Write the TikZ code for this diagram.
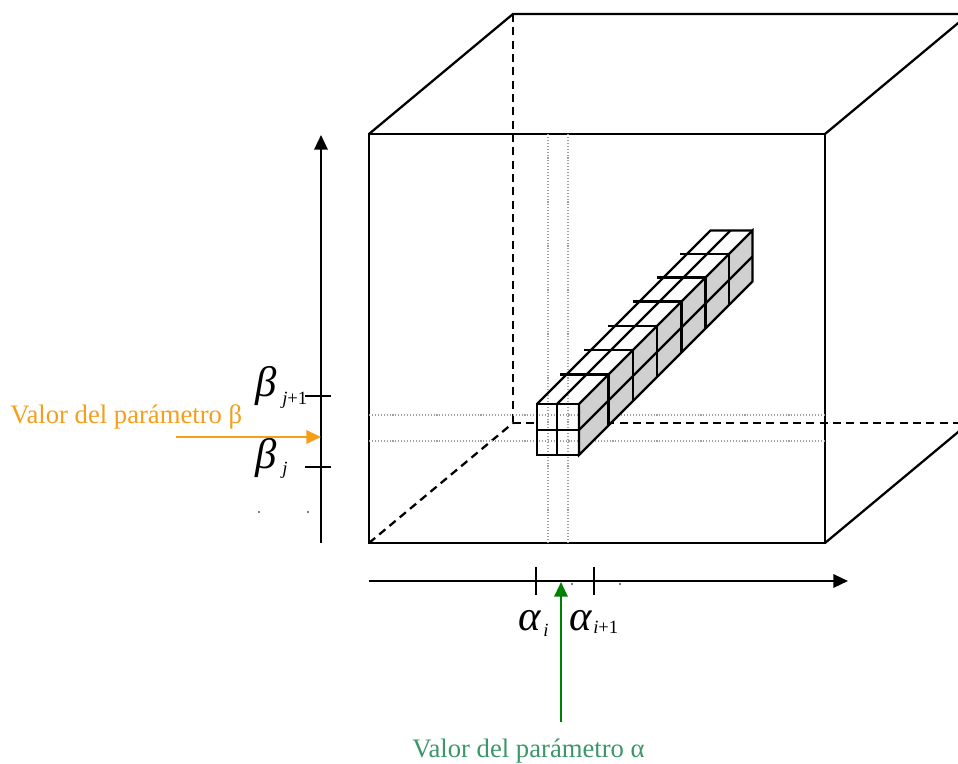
\documentclass[tikz,border=0pt]{standalone}
\usepackage{fontspec}
\setmainfont{Liberation Serif}
\usetikzlibrary{arrows.meta}
\definecolor{orangeA}{RGB}{245,158,25}
\definecolor{greenT}{RGB}{60,150,105}
\definecolor{greenA}{RGB}{0,128,0}
\definecolor{faceG}{RGB}{208,208,208}
\begin{document}
\begin{tikzpicture}[x=0.75pt,y=-0.75pt,line join=miter,
  edge/.style={line width=1.7pt},
  hiddenedge/.style={line width=1.7pt,dash pattern=on 6pt off 4pt},
  guide/.style={gray!75,line width=0.8pt,dash pattern=on 0.8pt off 1.4pt},
  thin edge/.style={line width=1.6pt},
  axisarrow/.style={line width=1.7pt,-{Triangle[length=11pt,width=10pt]}},
  greek/.style={inner sep=0pt,anchor=base west,font=\fontsize{32}{32}\selectfont\itshape},
  subs/.style={inner sep=0pt,anchor=base west,font=\fontsize{14}{14}\selectfont},
  label/.style={inner sep=0pt,anchor=base west,font=\fontsize{20}{20}\selectfont},
  speck/.style={fill=black,draw=none}]
\useasboundingbox (0,0) rectangle (958,764);

% cube corners
\coordinate (F1) at (369,134);
\coordinate (F2) at (825,134);
\coordinate (F3) at (825,543);
\coordinate (F4) at (369,543);
\coordinate (B1) at (513,14);
\coordinate (B2) at (969,14);
\coordinate (B3) at (969,423);
\coordinate (B4) at (513,423);

\begin{scope}
\clip (0,0) rectangle (958,764);
% hidden edges
\draw[hiddenedge] (B1) -- (B4);
\draw[hiddenedge] (B4) -- (B3);
\draw[hiddenedge] (F4) -- (B4);
% visible edges
\draw[edge] (F1) -- (F2) -- (F3) -- (F4) -- cycle;
\draw[edge] (F1) -- (B1) -- (B2);
\draw[edge] (F2) -- (B2);
\draw[edge] (F3) -- (B3);
\end{scope}

% stack of cells: front face fill
\fill[white] (537,404) rectangle (579,455);

% dotted guides
\coordinate (gv1t) at (548,134); \coordinate (gv1b) at (548,543);
\coordinate (gv2t) at (568,134); \coordinate (gv2b) at (568,543);
\coordinate (gh1l) at (369,415); \coordinate (gh1r) at (825,415);
\coordinate (gh2l) at (369,441); \coordinate (gh2r) at (825,441);
\draw[guide] (gv1t) -- (gv1b);
\draw[guide] (gv2t) -- (gv2b);
\draw[guide] (gh1l) -- (gh1r);
\draw[guide] (gh2l) -- (gh2r);

% right face (grey)
\filldraw[fill=faceG,thin edge] (579,404) -- (752.5,230.5) -- (752.5,281.5) -- (579,455) -- cycle;
\draw[thin edge] (579,430) -- (752.5,256.5);
% front face
\draw[thin edge] (537,404) rectangle (579,455);
\draw[thin edge] (537,430) -- (579,430);
\draw[thin edge] (557,404) -- (557,455);
% top face
\draw[thin edge] (537,404) -- (710.5,230.5) -- (752.5,230.5);
\draw[thin edge] (557,404) -- (730.5,230.5);
\foreach \d in {29.5,54,78,102.5,126.5,150}{
  \draw[thin edge] ({579+\d},{404-\d}) -- ({579+\d},{455-\d});
  \draw[thin edge] ({530+\d},{404-\d}) -- ({579+\d},{404-\d});
}

% axes
\coordinate (yb) at (321,543);
\coordinate (yt) at (321,135);
\coordinate (xl) at (369,581);
\coordinate (xr) at (848,581);
\draw[axisarrow] (yb) -- (yt);
\draw[axisarrow] (xl) -- (xr);

% ticks
\coordinate (tb1l) at (305,396); \coordinate (tb1r) at (331,396);
\coordinate (tb2l) at (305,467); \coordinate (tb2r) at (331,467);
\coordinate (ta1t) at (536,567); \coordinate (ta1b) at (536,595);
\coordinate (ta2t) at (594,567); \coordinate (ta2b) at (594,595);
\draw[edge] (tb1l) -- (tb1r);
\draw[edge] (tb2l) -- (tb2r);
\draw[edge] (ta1t) -- (ta1b);
\draw[edge] (ta2t) -- (ta2b);

% specks
\fill[speck] (259,512) circle (0.9);
\fill[speck] (308,512) circle (0.9);
\fill[speck] (572,584) circle (0.9);
\fill[speck] (620,584) circle (0.9);

% labels on axes
\node[greek] (bj1) at (255,396) {β};
\node[subs] (bj1s) at (282,404) {\textit{j}+1};
\node[greek] (bj) at (255,468) {β};
\node[subs] (bjs) at (282,474) {\textit{j}};
\node[greek] (ai) at (518,630) {α};
\node[subs] (ais) at (543,636) {\textit{i}};
\node[greek] (ai1) at (569,630) {α};
\node[subs] (ai1s) at (593,633) {\textit{i}+1};

% parameter labels and arrows
\node[label,text=orangeA] (lb) at (10,423) {Valor del parámetro β};
\coordinate (ob) at (176,437);
\coordinate (ot) at (321,437);
\draw[orangeA,line width=1.6pt,-{Triangle[length=11pt,width=10pt]}] (ob) -- (ot);

\node[label,text=greenT] (la) at (412,757) {Valor del parámetro α};
\coordinate (gb) at (561,722);
\coordinate (gt) at (561,582);
\draw[greenA,line width=1.6pt,-{Triangle[length=11pt,width=10pt]}] (gb) -- (gt);
\end{tikzpicture}
\end{document}
